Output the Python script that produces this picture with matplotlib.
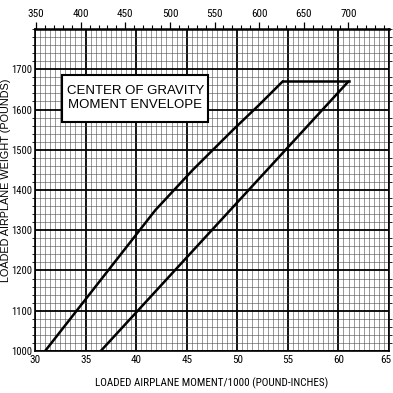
import matplotlib
matplotlib.use("Agg")
import matplotlib.pyplot as plt
from matplotlib.patches import Rectangle
from matplotlib.ticker import MultipleLocator
from matplotlib import font_manager
import matplotlib.transforms as mtransforms

# Data
fwd_moment = [31.0, 41.9, 45.6, 49.6, 52.1, 54.5]
fwd_weight = [1000, 1350, 1450, 1550, 1610, 1670]
aft_moment = [36.5, 61.0]
aft_weight = [1000, 1670]
x_ticks = [30, 35, 40, 45, 50, 55, 60, 65]
y_ticks = [1000, 1100, 1200, 1300, 1400, 1500, 1600, 1700]
top_ticks = [350, 400, 450, 500, 550, 600, 650, 700]
title_text = "CENTER OF GRAVITY\nMOMENT ENVELOPE"
x_label = "LOADED AIRPLANE MOMENT/1000 (POUND-INCHES)"
y_label = "LOADED AIRPLANE WEIGHT (POUNDS)"

names = {f.name for f in font_manager.fontManager.ttflist}
narrow = None
for cand in ["Liberation Sans Narrow", "Arial Narrow", "DejaVu Sans Condensed",
             "Roboto Condensed", "Open Sans Condensed"]:
    if cand in names:
        narrow = cand
        break
if narrow is None:
    NARROW = ["Liberation Sans", "DejaVu Sans"]
    nscale = 0.85
else:
    NARROW = [narrow, "Liberation Sans", "DejaVu Sans"]
    nscale = 1.0
BASE = ["Liberation Sans", "DejaVu Sans"]
plt.rcParams['font.family'] = NARROW

fig = plt.figure(figsize=(3.93, 3.93), dpi=100)
ax = fig.add_axes([35/393, 1-351/393, (389-35)/393, (351-29)/393])

ax.set_xlim(30, 65)
ax.set_ylim(1000, 1800)

ax.xaxis.set_minor_locator(MultipleLocator(0.5))
ax.yaxis.set_minor_locator(MultipleLocator(20))
ax.set_xticks(x_ticks)
ax.set_yticks(y_ticks)
ax.grid(which='minor', color='#4a4a4a', linewidth=0.5, alpha=0.8)
ax.grid(which='major', color='black', linewidth=1.3)
ax.set_axisbelow(True)

fs = 8.0 * nscale
ax.tick_params(axis='x', which='both', length=0, labelsize=fs, pad=3)
ax.tick_params(axis='y', which='both', length=0, labelsize=fs - 0.3, pad=2)
ax.tick_params(axis='y', which='minor', right=True, length=2, direction='out')

# nudge last x label inward a little
fig.canvas.draw()
last = ax.get_xticklabels()[-1]
last.set_transform(last.get_transform() + mtransforms.ScaledTranslation(-3/100, 0, fig.dpi_scale_trans))

for s in ax.spines.values():
    s.set_linewidth(1.2)
ax.spines['top'].set_linewidth(1.8)

# envelope
ax.plot(fwd_moment, fwd_weight, color='black', lw=1.8, solid_capstyle='round')
ax.plot(aft_moment, aft_weight, color='black', lw=1.8, solid_capstyle='round')
ax.plot([fwd_moment[-1], aft_moment[-1]], [fwd_weight[-1], aft_weight[-1]], color='black', lw=1.8)

# title box
ax.add_patch(Rectangle((32.7, 1569), 14.4, 117, facecolor='white', edgecolor='black', lw=1.5, zorder=5))
ax.text(39.9, 1628, title_text, ha='center', va='center', fontsize=9.5, zorder=6,
        linespacing=1.25, family=BASE)

ax.set_xlabel(x_label, fontsize=fs, labelpad=9)
fig.text(6.5/393, 1 - 180/393, y_label, rotation=90, ha='center', va='center',
         fontsize=7.8, family=BASE)

# top axis
top = ax.twiny()
top.set_xlim(350 - 0.1 * 11.33, 350 + 34.9 * 11.33)
top.set_xticks(top_ticks)
top.xaxis.set_minor_locator(MultipleLocator(10))
top.tick_params(axis='x', which='major', length=5, width=0.9, labelsize=fs, pad=2)
top.tick_params(axis='x', which='minor', length=3, width=0.8)
for s in top.spines.values():
    s.set_visible(False)

fig.savefig("out.png", dpi=100)
